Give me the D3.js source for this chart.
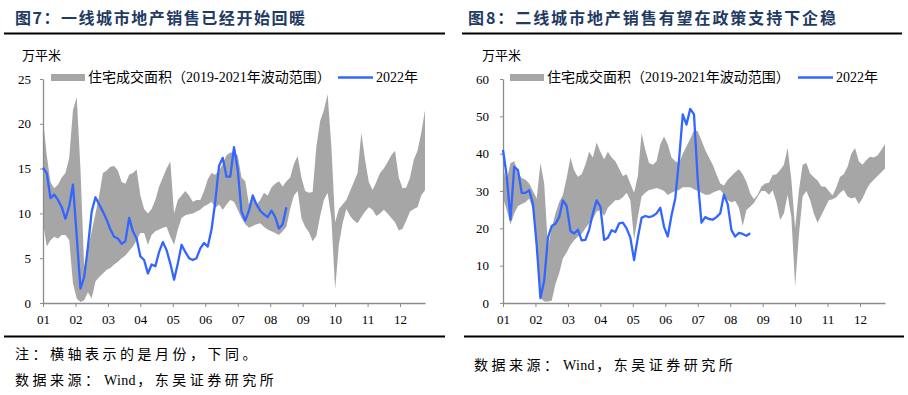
<!DOCTYPE html>
<html>
<head>
<meta charset="utf-8">
<script src="https://cdn.jsdelivr.net/npm/d3@7"></script>
<style>
  body { margin: 0; background: #fff; }
  svg { display: block; }
</style>
</head>
<body>
<script>

// x axis: month labels, data points are every half week (0..102)
const months = ["01", "02", "03", "04", "05", "06", "07", "08", "09", "10", "11", "12"];

// fig 7: tier-1 cities, 2019-2021 range (upper / lower) and 2022
const t1Upper = [
    20.5, 16.5, 13.5, 12.8, 13.2, 14.0, 14.5, 16.2, 21.5, 23.0,
    15.0, 4.0, 6.0, 8.0, 10.0, 12.0, 14.5, 14.8, 15.2, 15.3,
    14.8, 13.5, 13.3, 14.3, 14.5, 14.9, 12.0, 10.5, 10.0, 10.5,
    11.5, 13.0, 14.0, 15.0, 15.8, 10.0, 11.5, 12.0, 12.5, 12.0,
    11.3, 11.5, 11.5, 12.5, 13.8, 14.5, 14.3, 14.8, 15.5, 16.5,
    16.8, 16.8, 16.5, 14.0, 13.6, 11.0, 12.0, 11.0, 11.5, 12.3,
    12.0, 12.9, 13.3, 13.6, 13.0, 13.6, 14.0, 15.5, 16.4, 14.0,
    12.5, 12.3, 12.4, 17.5, 20.3, 21.5, 23.3, 17.5, 9.0, 10.5,
    11.0, 11.5, 12.5, 13.5, 14.5, 19.0, 16.0, 13.5, 12.6, 13.5,
    14.5, 15.0, 15.7, 16.5, 17.0, 14.0, 12.8, 12.9, 14.0, 16.0,
    17.0, 19.0, 21.5
];
const t1Lower = [
    9.0, 6.3, 7.0, 7.4, 7.2, 7.6, 7.6, 7.0, 2.2, 0.5,
    0.1, 0.3, 1.2, 0.5, 2.4, 2.9, 3.3, 3.7, 3.9, 4.3,
    4.6, 5.0, 5.3, 5.8, 6.3, 7.0, 7.8, 7.8, 6.5, 7.6,
    8.0, 8.2, 8.4, 8.5, 7.4, 6.5, 8.2, 9.5, 9.8, 9.9,
    10.0, 10.2, 10.4, 10.8, 11.0, 11.3, 10.6, 11.0, 10.4, 11.0,
    11.5, 11.3, 10.4, 9.5, 8.8, 8.4, 8.6, 8.8, 8.9, 8.5,
    8.2, 8.0, 7.8, 7.6, 8.0, 8.5, 10.5, 12.0, 12.5, 9.5,
    8.5, 7.9, 6.9, 7.5, 9.7, 11.5, 12.3, 9.5, 1.5, 6.5,
    8.9, 10.5, 9.7, 9.2, 8.9, 9.6, 10.2, 10.7, 10.4, 9.7,
    10.0, 10.4, 10.0, 9.5, 9.0, 8.1, 8.3, 9.2, 10.2, 10.5,
    10.7, 12.0, 12.6
];
const t1Y2022 = [
    15.1, 14.5, 11.7, 12.1, 11.5, 10.7, 9.4, 10.8, 13.2, 7.5,
    1.6, 2.9, 6.3, 10.2, 11.8, 11.0, 10.2, 9.3, 8.2, 7.4,
    7.2, 6.6, 6.9, 9.5, 8.0, 7.2, 5.2, 4.8, 3.3, 4.3,
    4.1, 5.7, 6.8, 5.9, 4.4, 2.6, 4.4, 6.5, 5.7, 5.0,
    4.8, 5.0, 6.1, 6.7, 6.3, 8.2, 11.3, 15.3, 16.2, 14.1,
    14.1, 17.4, 14.9, 10.2, 9.2, 10.3, 12.0, 11.0, 10.3, 9.9,
    9.6, 10.3, 9.6, 8.3, 8.8, 10.7
];

// fig 8: tier-2 cities
const t2Upper = [
    36, 33, 37.5, 38, 35, 33.5, 33, 32, 30, 28,
    37.5, 32, 15, 20, 24, 27, 29, 33.5, 39, 35.5,
    33.8, 34.5, 37, 40.5, 39, 43, 40.5, 38.5, 40.5, 39,
    38, 36, 34, 34.5, 32, 29.5, 34, 45.5, 41, 37.5,
    37, 38, 42.5, 44.6, 42.5, 39, 38, 37.5, 40, 42,
    44, 46.3, 46, 43.5, 41, 39, 37, 34.5, 32, 31.5,
    33, 34, 35, 35.8, 34.5, 32.5, 29.4, 27.8, 29, 31.2,
    32, 32.2, 34.3, 34.5, 35.6, 37, 41.5, 33, 20, 30,
    37, 37.5, 34.7, 33.7, 32.8, 31.2, 31.2, 30, 28.8, 31,
    33.8, 34.5, 36.5, 40, 41.5, 38, 37, 38.3, 39.2, 39,
    39.5, 41, 42.5
];
const t2Lower = [
    28, 25, 21, 24, 26, 26.5, 27, 28, 25, 13,
    1.5, 0.4, 0.4, 0.6, 5.0, 8.0, 12.0, 13.5, 15.5, 16.8,
    17.8, 18.5, 20.0, 21.3, 22.5, 24.5, 24.9, 23.3, 25.5, 26.5,
    27.5, 27.6, 28.3, 29.5, 27.5, 17, 23, 28.5, 29.5, 30.3,
    30.5, 30.8, 30.5, 30.0, 28.9, 29.5, 30.0, 30.3, 31, 31,
    31, 30.5, 30, 29.5, 29, 29, 29.5, 30, 30.3, 29,
    27.5, 27, 27.3, 25.5, 20.6, 24.9, 25.8, 26.8, 28.5, 30,
    30, 29, 30.2, 27, 22.2, 24, 29, 23, 4.5, 18,
    28.5, 30, 27.6, 24, 21.5, 23.5, 25.5, 27.5, 27.8, 28.3,
    29.5, 30.3, 28.5, 28, 28.3, 26.5, 28, 30.3, 32, 33,
    34, 35, 36
];
const t2Y2022 = [
    41.0, 34.0, 22.4, 36.5, 35.6, 29.5, 29.5, 30.2, 26.5, 15.5,
    1.3, 6.0, 17.5, 20.6, 21.2, 23.0, 27.5, 26.0, 19.3, 18.6,
    19.6, 16.8, 16.9, 19.6, 24.0, 27.5, 25.8, 16.9, 17.5, 19.5,
    19.0, 21.3, 21.5, 20.0, 17.5, 11.5, 17.5, 22.8, 23.3, 23.0,
    23.3, 24.0, 25.5, 20.4, 17.8, 23.5, 28.0, 38.3, 50.5, 47.8,
    52.0, 50.5, 33.0, 21.5, 23.0, 22.5, 22.3, 23.0, 24.0, 29.0,
    26.5, 19.5, 17.8, 18.8, 18.5, 18.0, 18.7
];

const t1Ticks = [0, 5, 10, 15, 20, 25];
const t2Ticks = [0, 10, 20, 30, 40, 50, 60];

const bandName = "住宅成交面积（2019-2021年波动范围）";
const lineName = "2022年";

// footnotes, split so the Latin word keeps normal spacing
const noteAxis = ["注：横轴表示的是月份，下同。"];
const noteSource = ["数据来源：", "Wind", "，东吴证券研究所"];

const width = 908;
const height = 395;
const plotTop = 79;
const plotBottom = 303;

const cjk = "'Liberation Serif', 'Noto Sans CJK SC', serif";
const titleFont = "'Noto Sans CJK SC', sans-serif";

function drawPanel(svg, p) {

    const x = d3.scaleLinear()
        .domain([0, 102])
        .range([p.left, p.right]);

    const y = d3.scaleLinear()
        .domain([0, p.yMax])
        .range([plotBottom, plotTop]);

    // Title and rules
    svg.append("text")
        .attr("x", p.titleX)
        .attr("y", 17)
        .attr("dominant-baseline", "central")
        .attr("font-family", titleFont)
        .attr("font-weight", "bold")
        .attr("font-size", 16)
        .attr("fill", "#1f3a63")
        .attr("textLength", p.titleLen)
        .attr("lengthAdjust", "spacing")
        .text(p.title);

    svg.append("line")
        .attr("x1", p.ruleTop[0]).attr("x2", p.ruleTop[1])
        .attr("y1", 33.5).attr("y2", 33.5)
        .attr("stroke", "#000").attr("stroke-width", 2.2);

    svg.append("line")
        .attr("x1", p.ruleBottom[0]).attr("x2", p.ruleBottom[1])
        .attr("y1", 336.5).attr("y2", 336.5)
        .attr("stroke", "#000").attr("stroke-width", 2.2);

    // unit label
    svg.append("text")
        .attr("x", p.unitX)
        .attr("y", 55.5)
        .attr("dominant-baseline", "central")
        .attr("font-family", cjk)
        .attr("font-size", 13)
        .text("万平米");

    // Range band
    const band = p.upper.map((u, i) => ({i: i, hi: u, lo: p.lower[i]}));
    svg.append("path")
        .datum(band)
        .attr("fill", "#a6a6a6")
        .attr("d", d3.area()
            .x(d => x(d.i))
            .y0(d => y(d.lo))
            .y1(d => y(d.hi)));

    // Axes
    svg.append("g")
        .attr("transform", `translate(${p.left},0)`)
        .call(d3.axisLeft(y).tickValues(p.yTicks).tickSize(3).tickPadding(p.yPad).tickSizeOuter(0))
        .call(g => g.select(".domain").attr("stroke", "#8c8c8c").attr("stroke-width", 1.3))
        .call(g => g.selectAll(".tick line").attr("stroke", "#8c8c8c"))
        .call(g => g.selectAll(".tick text")
            .attr("font-family", "'Liberation Serif', serif")
            .attr("font-size", 13)
            .attr("fill", "#000"));

    const monthPos = months.map((m, k) => k * 104 / 12);
    svg.append("g")
        .attr("transform", `translate(0,${plotBottom})`)
        .call(d3.axisBottom(x).tickValues(monthPos).tickFormat((d, k) => months[k])
            .tickSize(4).tickPadding(8).tickSizeOuter(0))
        .call(g => g.select(".domain").attr("stroke", "#8c8c8c").attr("stroke-width", 1.3))
        .call(g => g.selectAll(".tick line").attr("stroke", "#8c8c8c"))
        .call(g => g.selectAll(".tick text")
            .attr("font-family", "'Liberation Serif', serif")
            .attr("font-size", 13)
            .attr("fill", "#000"));

    // 2022 line
    svg.append("path")
        .datum(p.line)
        .attr("fill", "none")
        .attr("stroke", "#3366ff")
        .attr("stroke-width", 2.3)
        .attr("stroke-linejoin", "round")
        .attr("d", d3.line()
            .x((d, i) => x(i))
            .y(d => y(d)));

    // Legend
    svg.append("rect")
        .attr("x", p.legendX)
        .attr("y", 74)
        .attr("width", 34)
        .attr("height", 7)
        .attr("fill", "#a6a6a6");

    svg.append("text")
        .attr("x", p.legendX + 37)
        .attr("y", 77.5)
        .attr("dominant-baseline", "central")
        .attr("font-family", cjk)
        .attr("font-size", 14)
        .text(bandName);

    svg.append("line")
        .attr("x1", p.legend2X).attr("x2", p.legend2X + 35)
        .attr("y1", 77.5).attr("y2", 77.5)
        .attr("stroke", "#3366ff")
        .attr("stroke-width", 2.5);

    svg.append("text")
        .attr("x", p.legend2X + 38)
        .attr("y", 77.5)
        .attr("dominant-baseline", "central")
        .attr("font-family", cjk)
        .attr("font-size", 14)
        .text(lineName);

    // Notes under the chart
    p.notes.forEach(n => {
        const t = svg.append("text")
            .attr("x", n.x)
            .attr("y", n.y)
            .attr("dominant-baseline", "central")
            .attr("font-family", cjk)
            .attr("font-size", 14);
        n.parts.forEach((s, k) => {
            const latin = /^[A-Za-z]+$/.test(s);
            t.append("tspan")
                .attr("dx", k > 0 ? 1.5 : 0)
                .attr("letter-spacing", latin ? 0.3 : 3.5)
                .text(s);
        });
    });
}

function makePlot() {

    const svg = d3.select("body").append("svg")
        .attr("width", width)
        .attr("height", height)
        .attr("viewBox", [0, 0, width, height]);

    drawPanel(svg, {
        title: "图7：一线城市地产销售已经开始回暖",
        titleX: 15, titleLen: 290,
        ruleTop: [4, 445], ruleBottom: [4, 445],
        unitX: 22,
        left: 43, right: 425, yMax: 25, yTicks: t1Ticks, yPad: 9,
        upper: t1Upper, lower: t1Lower, line: t1Y2022,
        legendX: 51, legend2X: 338,
        notes: [
            {parts: noteAxis, x: 15, y: 353.5},
            {parts: noteSource, x: 15, y: 380}
        ]
    });

    drawPanel(svg, {
        title: "图8：二线城市地产销售有望在政策支持下企稳",
        titleX: 468, titleLen: 368,
        ruleTop: [462, 902], ruleBottom: [464, 904],
        unitX: 482,
        left: 503, right: 885, yMax: 60, yTicks: t2Ticks, yPad: 11,
        upper: t2Upper, lower: t2Lower, line: t2Y2022,
        legendX: 510, legend2X: 798,
        notes: [
            {parts: noteSource, x: 474, y: 365}
        ]
    });
}

makePlot();
</script>
</body>
</html>
